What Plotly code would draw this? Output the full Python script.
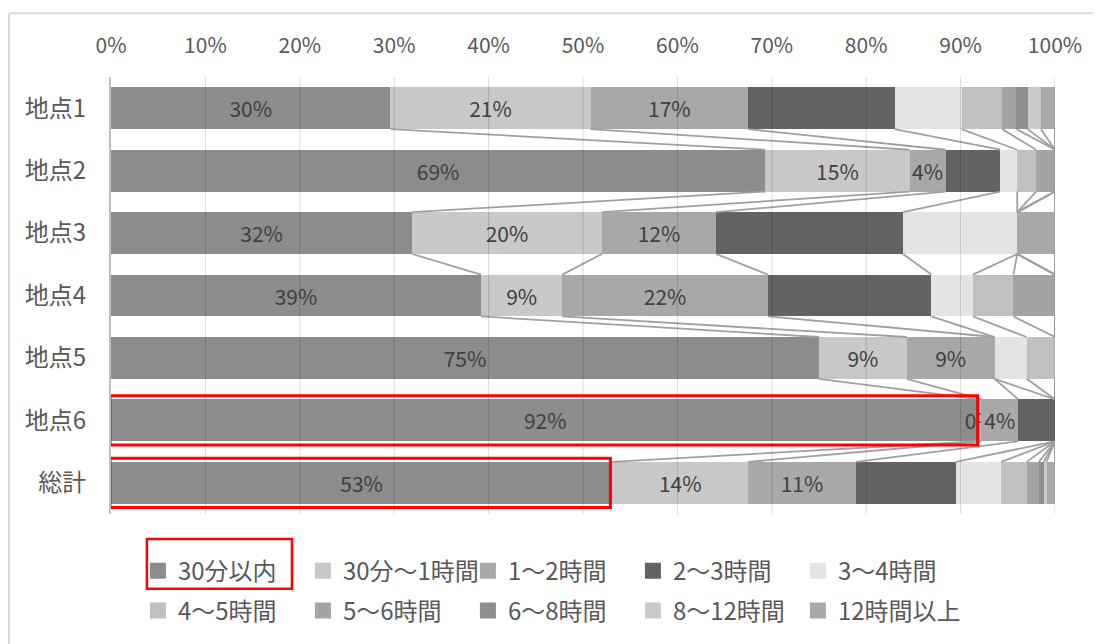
import plotly.graph_objects as go

categories = ["地点1", "地点2", "地点3", "地点4", "地点5", "地点6", "総計"]
series_names = ["30分以内", "30分～1時間", "1～2時間", "2～3時間", "3～4時間",
                "4～5時間", "5～6時間", "6～8時間", "8～12時間", "12時間以上"]

v_30min = [29.6, 69.3, 31.9, 39.2, 75.0, 92.0, 53.1]
v_30_60 = [21.2, 15.3, 20.1, 8.6, 9.3, 0.2, 14.4]
v_1_2 = [16.7, 3.8, 12.1, 21.8, 9.3, 3.9, 11.4]
v_2_3 = [15.5, 5.8, 19.8, 17.3, 0.0, 3.9, 10.6]
v_3_4 = [7.1, 1.8, 12.1, 4.4, 3.4, 0.0, 4.8]
v_4_5 = [4.3, 2.0, 0.0, 4.3, 3.0, 0.0, 2.7]
v_5_6 = [1.5, 2.0, 0.0, 4.4, 0.0, 0.0, 1.3]
v_6_8 = [1.2, 0.0, 0.0, 0.0, 0.0, 0.0, 0.5]
v_8_12 = [1.4, 0.0, 0.0, 0.0, 0.0, 0.0, 0.3]
v_12up = [1.5, 0.0, 4.0, 0.0, 0.0, 0.0, 0.9]

series_values = [v_30min, v_30_60, v_1_2, v_2_3, v_3_4, v_4_5, v_5_6, v_6_8, v_8_12, v_12up]
colors = ["#8c8c8c", "#c8c8c8", "#a8a8a8", "#636363", "#e4e4e4",
          "#c0c0c0", "#a4a4a4", "#8f8f8f", "#cacaca", "#a9a9a9"]
labeled_series = 3
x_ticks = [0, 10, 20, 30, 40, 50, 60, 70, 80, 90, 100]
highlight = ["地点6", "総計"]

FONT = "Noto Sans CJK JP"
TXT = "#595959"
FS = 22
FS_CJK = 24
BARGAP = 0.33
HALF = (1 - BARGAP) / 2
ypos = list(range(len(categories)))

fig = go.Figure()
for k, (name, vals, col) in enumerate(zip(series_names, series_values, colors)):
    if k < labeled_series:
        kw = dict(text=[f"{round(v)}%" for v in vals], textposition="inside",
                  insidetextanchor="middle", constraintext="none", textangle=0,
                  textfont=dict(color="#404040", size=FS - 1, family=FONT))
    else:
        kw = dict(textposition="none")
    fig.add_trace(go.Bar(
        y=ypos, x=vals, orientation="h", name=name, legendgroup=name, showlegend=False,
        marker=dict(color=col, line=dict(width=0)),
        hoverinfo="skip", **kw))

# legend entries (square swatches)
for k, (name, col) in enumerate(zip(series_names, colors)):
    fig.add_trace(go.Scatter(
        x=[None], y=[None], mode="markers", name=name, legendgroup=name,
        marker=dict(symbol="square", size=16, color=col),
        legend="legend" if k < 5 else "legend2", hoverinfo="skip"))

# series lines
cums = []
run = [0.0] * len(categories)
for vals in series_values:
    run = [a + b for a, b in zip(run, vals)]
    cums.append(run[:])
lx, ly = [], []
for cum in cums:
    for i in range(len(categories) - 1):
        lx += [cum[i], cum[i + 1], None]
        ly += [i + HALF, i + 1 - HALF, None]
fig.add_trace(go.Scatter(x=lx, y=ly, mode="lines", line=dict(color="#a0a0a0", width=1.8),
                         showlegend=False, hoverinfo="skip"))

shapes = []
for t in x_ticks[1:]:
    shapes.append(dict(type="line", xref="x", yref="paper", x0=t, x1=t, y0=0, y1=1,
                       line=dict(color="rgba(0,0,0,0.15)", width=1), layer="above"))
for c in highlight:
    i = categories.index(c)
    shapes.append(dict(type="rect", xref="x", yref="y", x0=-0.1, x1=series_values[0][i] - 0.2,
                       y0=i - HALF - 0.06, y1=i + HALF + 0.06,
                       line=dict(color="#ff0000", width=3), layer="above"))
shapes.append(dict(type="rect", xref="paper", yref="paper", x0=0.038, x1=0.1917,
                   y0=-0.171, y1=-0.057, line=dict(color="#ff0000", width=2.5)))
shapes.append(dict(type="line", xref="paper", yref="paper", x0=-0.108, x1=-0.108,
                   y0=-0.4, y1=1.146, line=dict(color="#d9d9d9", width=2)))
shapes.append(dict(type="line", xref="paper", yref="paper", x0=-0.108, x1=1.1,
                   y0=1.146, y1=1.146, line=dict(color="#d9d9d9", width=2)))

leg = dict(orientation="h", xanchor="left", yanchor="middle",
           font=dict(family=FONT, size=FS_CJK, color=TXT),
           entrywidth=120, entrywidthmode="pixels", bgcolor="rgba(0,0,0,0)",
           traceorder="normal", itemsizing="trace")

fig.update_layout(
    width=1093, height=636,
    margin=dict(l=103, r=46, t=69, b=129),
    barmode="stack", bargap=BARGAP,
    plot_bgcolor="white", paper_bgcolor="white",
    font=dict(family=FONT, size=FS, color=TXT),
    shapes=shapes,
    legend=dict(leg, x=0.0285, y=-0.128),
    legend2=dict(leg, x=0.0285, y=-0.219),
    xaxis=dict(side="top", range=[0, 100], tickvals=x_ticks, automargin=False,
               ticktext=[f"{t}%" for t in x_ticks], showgrid=False, zeroline=False,
               showline=False, ticks="outside", ticklen=15, tickcolor="rgba(0,0,0,0)",
               tickfont=dict(family=FONT, size=FS - 1, color=TXT)),
    yaxis=dict(range=[len(categories) - 0.5, -0.5], tickvals=ypos, ticktext=categories,
               automargin=False,
               showgrid=False, zeroline=False, showline=True, linecolor="#bfbfbf",
               linewidth=2, ticks="", ticklabelstandoff=18,
               tickfont=dict(family=FONT, size=FS_CJK, color=TXT)),
)

fig.write_html("out.html")
